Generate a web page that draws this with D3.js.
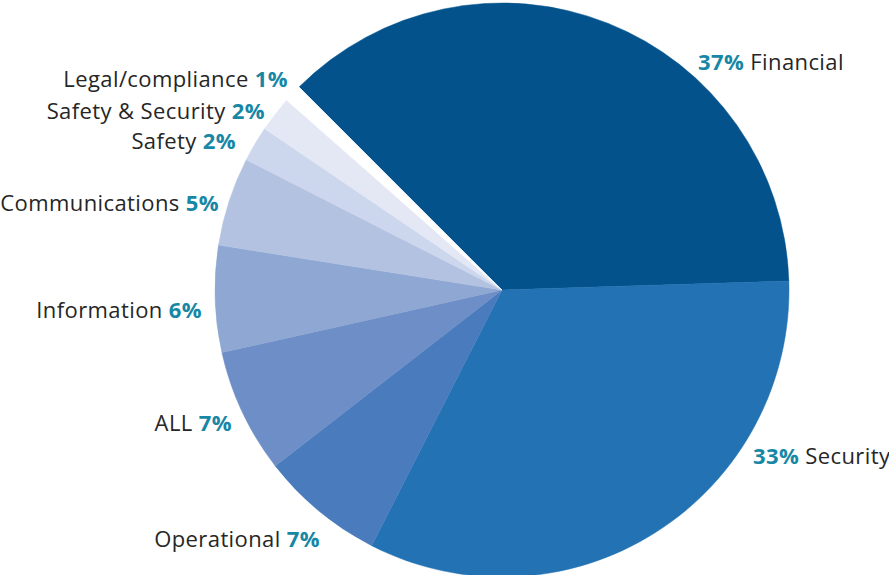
<!DOCTYPE html>
<html>
<head>
<meta charset="utf-8">
<script src="https://cdn.jsdelivr.net/npm/d3@7/dist/d3.min.js"></script>
<style>
  html, body { margin: 0; padding: 0; background: #ffffff; }
  svg text { font-family: "Open Sans", Lato, sans-serif; letter-spacing: 0.4px; }
</style>
</head>
<body>
<svg id="chart" width="889" height="575"></svg>
<script>
// Share of incidents by category (percent)
const categories = ["Financial", "Security", "Operational", "ALL", "Information",
                    "Communications", "Safety", "Safety & Security", "Legal/compliance"];
const shares = [37, 33, 7, 7, 6, 5, 2, 2, 1];
const shareLabels = ["37%", "33%", "7%", "7%", "6%", "5%", "2%", "2%", "1%"];

// Slice fills, dark to light; the smallest slice is left blank
const fills = ["#03528c", "#2372b3", "#4a7cbd", "#6d8ec6", "#8ea7d3",
               "#b3c2e1", "#ccd6ec", "#e3e8f4", "#ffffff"];

// Label layout: anchor point, alignment, and whether the share comes first
const labelLayout = [
  { x: 698, y: 70,  anchor: "start", shareFirst: true },
  { x: 753, y: 464, anchor: "start", shareFirst: true },
  { x: 320, y: 547, anchor: "end",   shareFirst: false },
  { x: 232, y: 431, anchor: "end",   shareFirst: false },
  { x: 202, y: 318, anchor: "end",   shareFirst: false },
  { x: 219, y: 211, anchor: "end",   shareFirst: false },
  { x: 236, y: 149, anchor: "end",   shareFirst: false },
  { x: 265, y: 119, anchor: "end",   shareFirst: false },
  { x: 288, y: 87,  anchor: "end",   shareFirst: false }
];

const svg = d3.select("#chart");
const cx = 502, cy = 290, radius = 287;

const data = categories.map((c, i) => ({ category: c, share: shares[i], label: shareLabels[i], i }));

const startAngle = -Math.PI / 4;
const pie = d3.pie()
  .sort(null)
  .value(d => d.share)
  .startAngle(startAngle)
  .endAngle(startAngle + 2 * Math.PI);

const arc = d3.arc().innerRadius(0).outerRadius(radius);

const color = d3.scaleOrdinal().domain(categories).range(fills);

const g = svg.append("g").attr("transform", `translate(${cx},${cy})`);

g.selectAll("path.slice")
  .data(pie(data))
  .join("path")
  .attr("class", "slice")
  .attr("d", arc)
  .attr("fill", d => color(d.data.category))
  .attr("stroke", d => color(d.data.category))
  .attr("stroke-width", 0.5);

// Category labels with the share in bold teal
const labels = svg.append("g");
data.forEach((d, i) => {
  const L = labelLayout[i];
  const t = labels.append("text")
    .attr("x", L.x)
    .attr("y", L.y)
    .attr("text-anchor", L.anchor)
    .attr("font-size", 22);
  const pct = () => t.append("tspan").attr("font-weight", 700).attr("fill", "#1787a5").text(d.label);
  const name = (s) => t.append("tspan").attr("fill", "#262626").text(s);
  if (L.shareFirst) { pct(); name(" " + d.category); }
  else { name(d.category + " "); pct(); }
});
</script>
</body>
</html>
